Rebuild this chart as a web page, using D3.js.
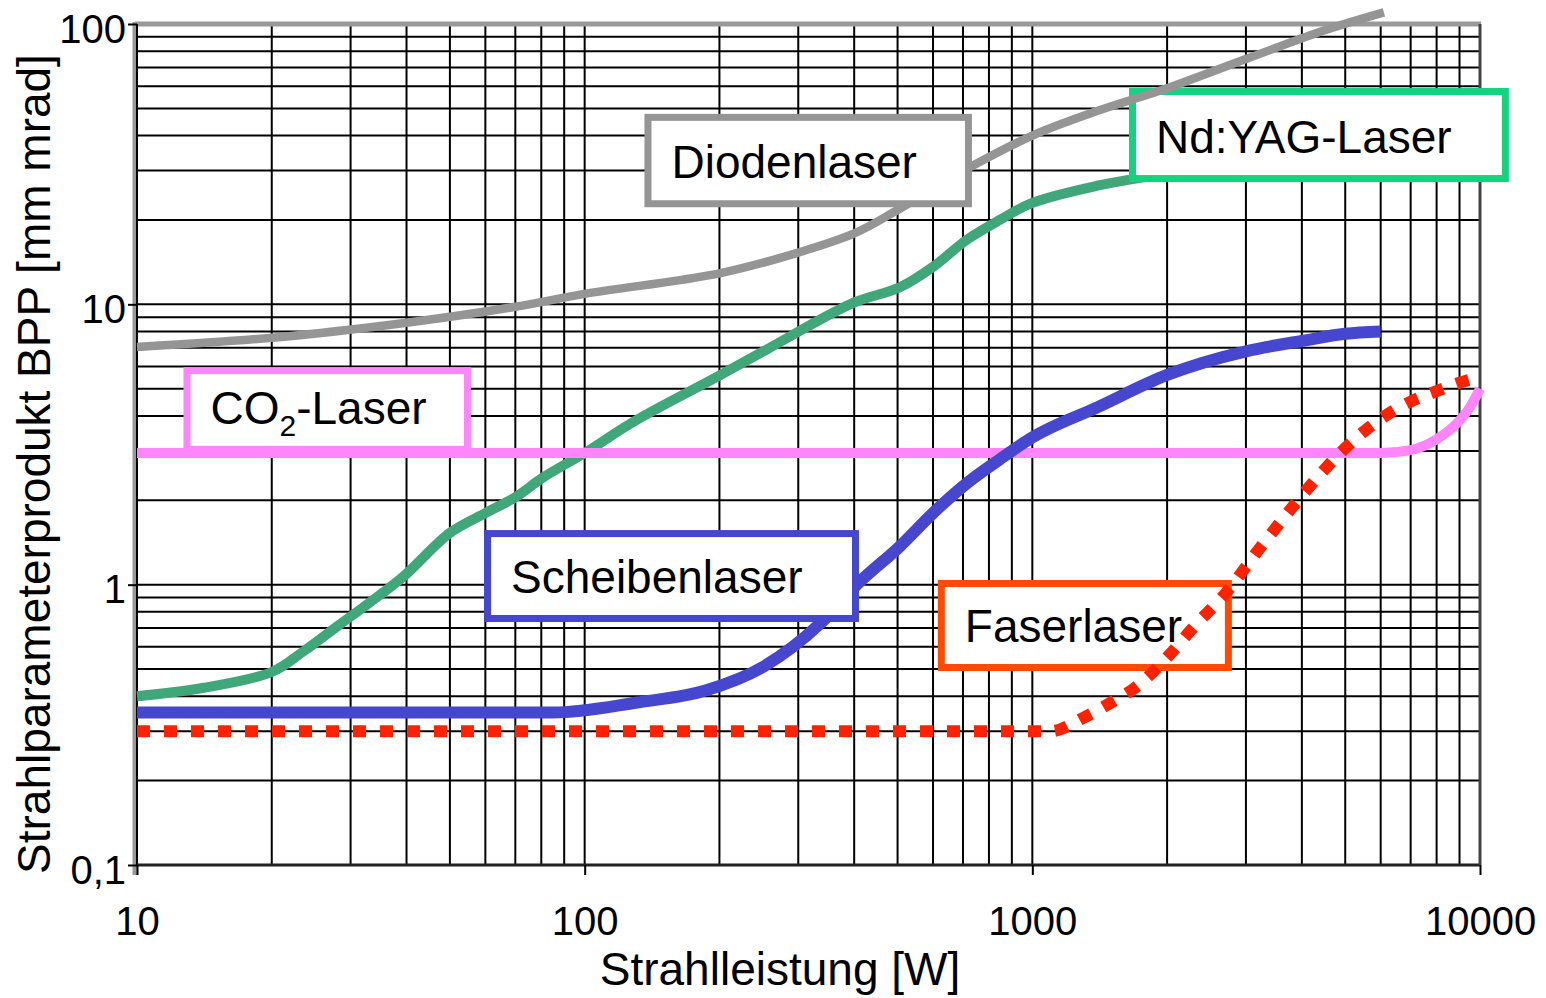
<!DOCTYPE html>
<html>
<head>
<meta charset="utf-8">
<script src="https://cdn.jsdelivr.net/npm/d3@7/dist/d3.min.js"></script>
<style>
  body { margin: 0; background: #fff; }
  text { font-family: 'Liberation Sans', Arial, sans-serif; }
</style>
</head>
<body>
<div id="chart"></div>
<script>
// axis ticks
const xTicks = [10, 100, 1000, 10000];
const yTicks = [0.1, 1, 10, 100];
const yTickLabels = ['0,1', '1', '10', '100'];

// Diodenlaser (grey)
const diodeP = [10, 20, 40, 70, 100, 200, 300, 400, 500, 730, 1000, 1400, 2000, 3000, 4500, 6100];
const diodeBpp = [7.05, 7.6, 8.6, 9.8, 10.9, 12.9, 15.3, 17.9, 21.7, 31, 40, 49, 59, 75, 95, 110];

// Nd:YAG-Laser (green)
const yagP = [10, 14, 20, 23.6, 28, 33, 39.4, 50, 60, 70, 81, 100, 130, 197, 255, 397, 506, 600, 714, 846, 1000, 1416, 1800];
const yagBpp = [0.4, 0.428, 0.488, 0.58, 0.71, 0.86, 1.07, 1.53, 1.8, 2.05, 2.42, 2.95, 3.85, 5.5, 6.9, 10.1, 11.5, 13.6, 17, 20, 23, 26.6, 28.5];

// CO2-Laser (pink)
const co2P = [10, 6000, 7000, 8000, 9000, 9500, 10000];
const co2Bpp = [2.95, 2.95, 3.02, 3.3, 3.85, 4.3, 5.0];

// Scheibenlaser (blue)
const diskP = [10, 50, 85, 131, 187, 251, 337, 408, 506, 600, 714, 846, 1000, 1400, 2000, 3000, 4000, 5000, 6000];
const diskBpp = [0.35, 0.35, 0.35, 0.38, 0.42, 0.51, 0.73, 1.01, 1.37, 1.8, 2.3, 2.8, 3.35, 4.3, 5.6, 6.8, 7.4, 7.85, 8.0];

// Faserlaser (red, dotted)
const fiberP = [10, 1100, 1300, 1500, 1700, 2000, 2300, 2700, 3200, 3800, 4500, 5000, 6000, 7000, 8000, 9000, 10000];
const fiberBpp = [0.3, 0.3, 0.335, 0.38, 0.43, 0.55, 0.71, 0.93, 1.33, 1.88, 2.58, 3.07, 3.9, 4.5, 4.9, 5.25, 5.5];

const zip = (a, b) => a.map((v, i) => [v, b[i]]);

const W = 1546;
const H = 998;
const plot = { left: 137, right: 1480, top: 24, bottom: 865 };
const font = "'Liberation Sans', Arial, sans-serif";

const x = d3.scaleLog().domain([10, 10000]).range([plot.left, plot.right]);
const y = d3.scaleLog().domain([0.1, 100]).range([plot.bottom, plot.top]);

const svg = d3.select('#chart').append('svg')
  .attr('width', W)
  .attr('height', H)
  .style('background', '#fff');

// grid
const grid = svg.append('g').attr('stroke', '#000').attr('stroke-width', 2);
grid.selectAll('.vx')
  .data(x.ticks())
  .enter().append('line')
  .attr('x1', (d) => x(d)).attr('x2', (d) => x(d))
  .attr('y1', plot.top).attr('y2', plot.bottom);
grid.selectAll('.hy')
  .data(y.ticks())
  .enter().append('line')
  .attr('y1', (d) => y(d)).attr('y2', (d) => y(d))
  .attr('x1', plot.left).attr('x2', plot.right);

// frame
svg.append('line').attr('x1', plot.left - 2).attr('x2', plot.right + 1)
  .attr('y1', plot.top).attr('y2', plot.top)
  .attr('stroke', '#999').attr('stroke-width', 5);
svg.append('line').attr('x1', plot.left - 2).attr('x2', plot.left - 2)
  .attr('y1', plot.top - 2).attr('y2', plot.bottom + 10)
  .attr('stroke', '#999').attr('stroke-width', 5);
svg.append('line').attr('x1', plot.left).attr('x2', plot.left)
  .attr('y1', plot.top).attr('y2', plot.bottom)
  .attr('stroke', '#000').attr('stroke-width', 2);
svg.append('line').attr('x1', plot.left).attr('x2', plot.right)
  .attr('y1', plot.bottom).attr('y2', plot.bottom)
  .attr('stroke', '#222').attr('stroke-width', 3);
svg.append('line').attr('x1', plot.right).attr('x2', plot.right)
  .attr('y1', plot.top).attr('y2', plot.bottom)
  .attr('stroke', '#444').attr('stroke-width', 3);

// axes
svg.append('g')
  .attr('transform', `translate(0,${plot.bottom})`)
  .call(d3.axisBottom(x).tickValues(xTicks).tickFormat(d3.format('d')).tickSize(10).tickPadding(32))
  .call((g) => g.select('.domain').remove())
  .call((g) => g.selectAll('line').attr('stroke', '#000').attr('stroke-width', 2))
  .attr('font-size', 40)
  .attr('font-family', font);

svg.append('g')
  .attr('transform', `translate(${plot.left},0)`)
  .call(d3.axisLeft(y).tickValues(yTicks).tickFormat((d, i) => yTickLabels[i]).tickSize(9).tickPadding(2))
  .call((g) => g.select('.domain').remove())
  .call((g) => g.selectAll('line').attr('stroke', '#000').attr('stroke-width', 2))
  .call((g) => g.selectAll('text').attr('dy', '0.45em'))
  .attr('font-size', 40)
  .attr('font-family', font);

svg.append('text')
  .attr('x', 780)
  .attr('y', 985)
  .attr('text-anchor', 'middle')
  .attr('font-size', 46)
  .text('Strahlleistung [W]');

svg.append('text')
  .attr('transform', 'translate(50,464) rotate(-90)')
  .attr('text-anchor', 'middle')
  .attr('font-size', 46)
  .text('Strahlparameterprodukt BPP [mm mrad]');

const line = d3.line()
  .x((d) => x(d[0]))
  .y((d) => y(d[1]))
  .curve(d3.curveMonotoneX);

const smooth = d3.line()
  .x((d) => x(d[0]))
  .y((d) => y(d[1]))
  .curve(d3.curveCatmullRom.alpha(0.5));

const drawCurve = (data, color, width, dash, gen) => svg.append('path')
  .datum(data)
  .attr('d', gen || line)
  .attr('fill', 'none')
  .attr('stroke', color)
  .attr('stroke-width', width)
  .attr('stroke-dasharray', dash || null)
  .attr('stroke-linejoin', 'round');

// label boxes: [left, right] power, [top, bottom] BPP
const drawLabel = (box, color, parts) => {
  const x0 = x(box[0]);
  const x1 = x(box[1]);
  const y0 = y(box[2]);
  const y1 = y(box[3]);
  svg.append('rect')
    .attr('x', x0 + 3.5).attr('y', y0 + 3.5)
    .attr('width', x1 - x0 - 7).attr('height', y1 - y0 - 7)
    .attr('fill', '#fff')
    .attr('stroke', color)
    .attr('stroke-width', 7);
  const t = svg.append('text')
    .attr('x', x0 + 27)
    .attr('y', y1 - 29)
    .attr('font-size', 46)
    .attr('fill', '#000');
  parts.forEach((p) => {
    t.append('tspan')
      .attr('font-size', p.sub ? 30 : 46)
      .attr('dy', p.dy || 0)
      .text(p.t);
  });
};

drawCurve(zip(yagP, yagBpp), '#3fa77a', 10, null, smooth);
drawCurve(zip(co2P, co2Bpp), '#ff86fa', 10);
drawCurve(zip(diskP, diskBpp), '#4646cf', 12);

drawLabel([1644, 11600, 59.1, 27.3], '#14d27f', [{ t: 'Nd:YAG-Laser' }]);
drawCurve(zip(diodeP, diodeBpp), '#959595', 8.5, null, smooth);
drawLabel([136, 733, 47.8, 22.2], '#959595', [{ t: 'Diodenlaser' }]);
drawLabel([12.7, 55.7, 5.97, 2.95], '#ff86fa', [{ t: 'CO' }, { t: '2', sub: true, dy: 12 }, { t: '-Laser', dy: -12 }]);
drawLabel([59.6, 410, 1.566, 0.736], '#4646cf', [{ t: 'Scheibenlaser' }]);
drawLabel([615, 2791, 1.039, 0.492], '#ff4a00', [{ t: 'Faserlaser' }]);

drawCurve(zip(fiberP, fiberBpp), '#ff2200', 12, '13 14');
</script>
</body>
</html>
